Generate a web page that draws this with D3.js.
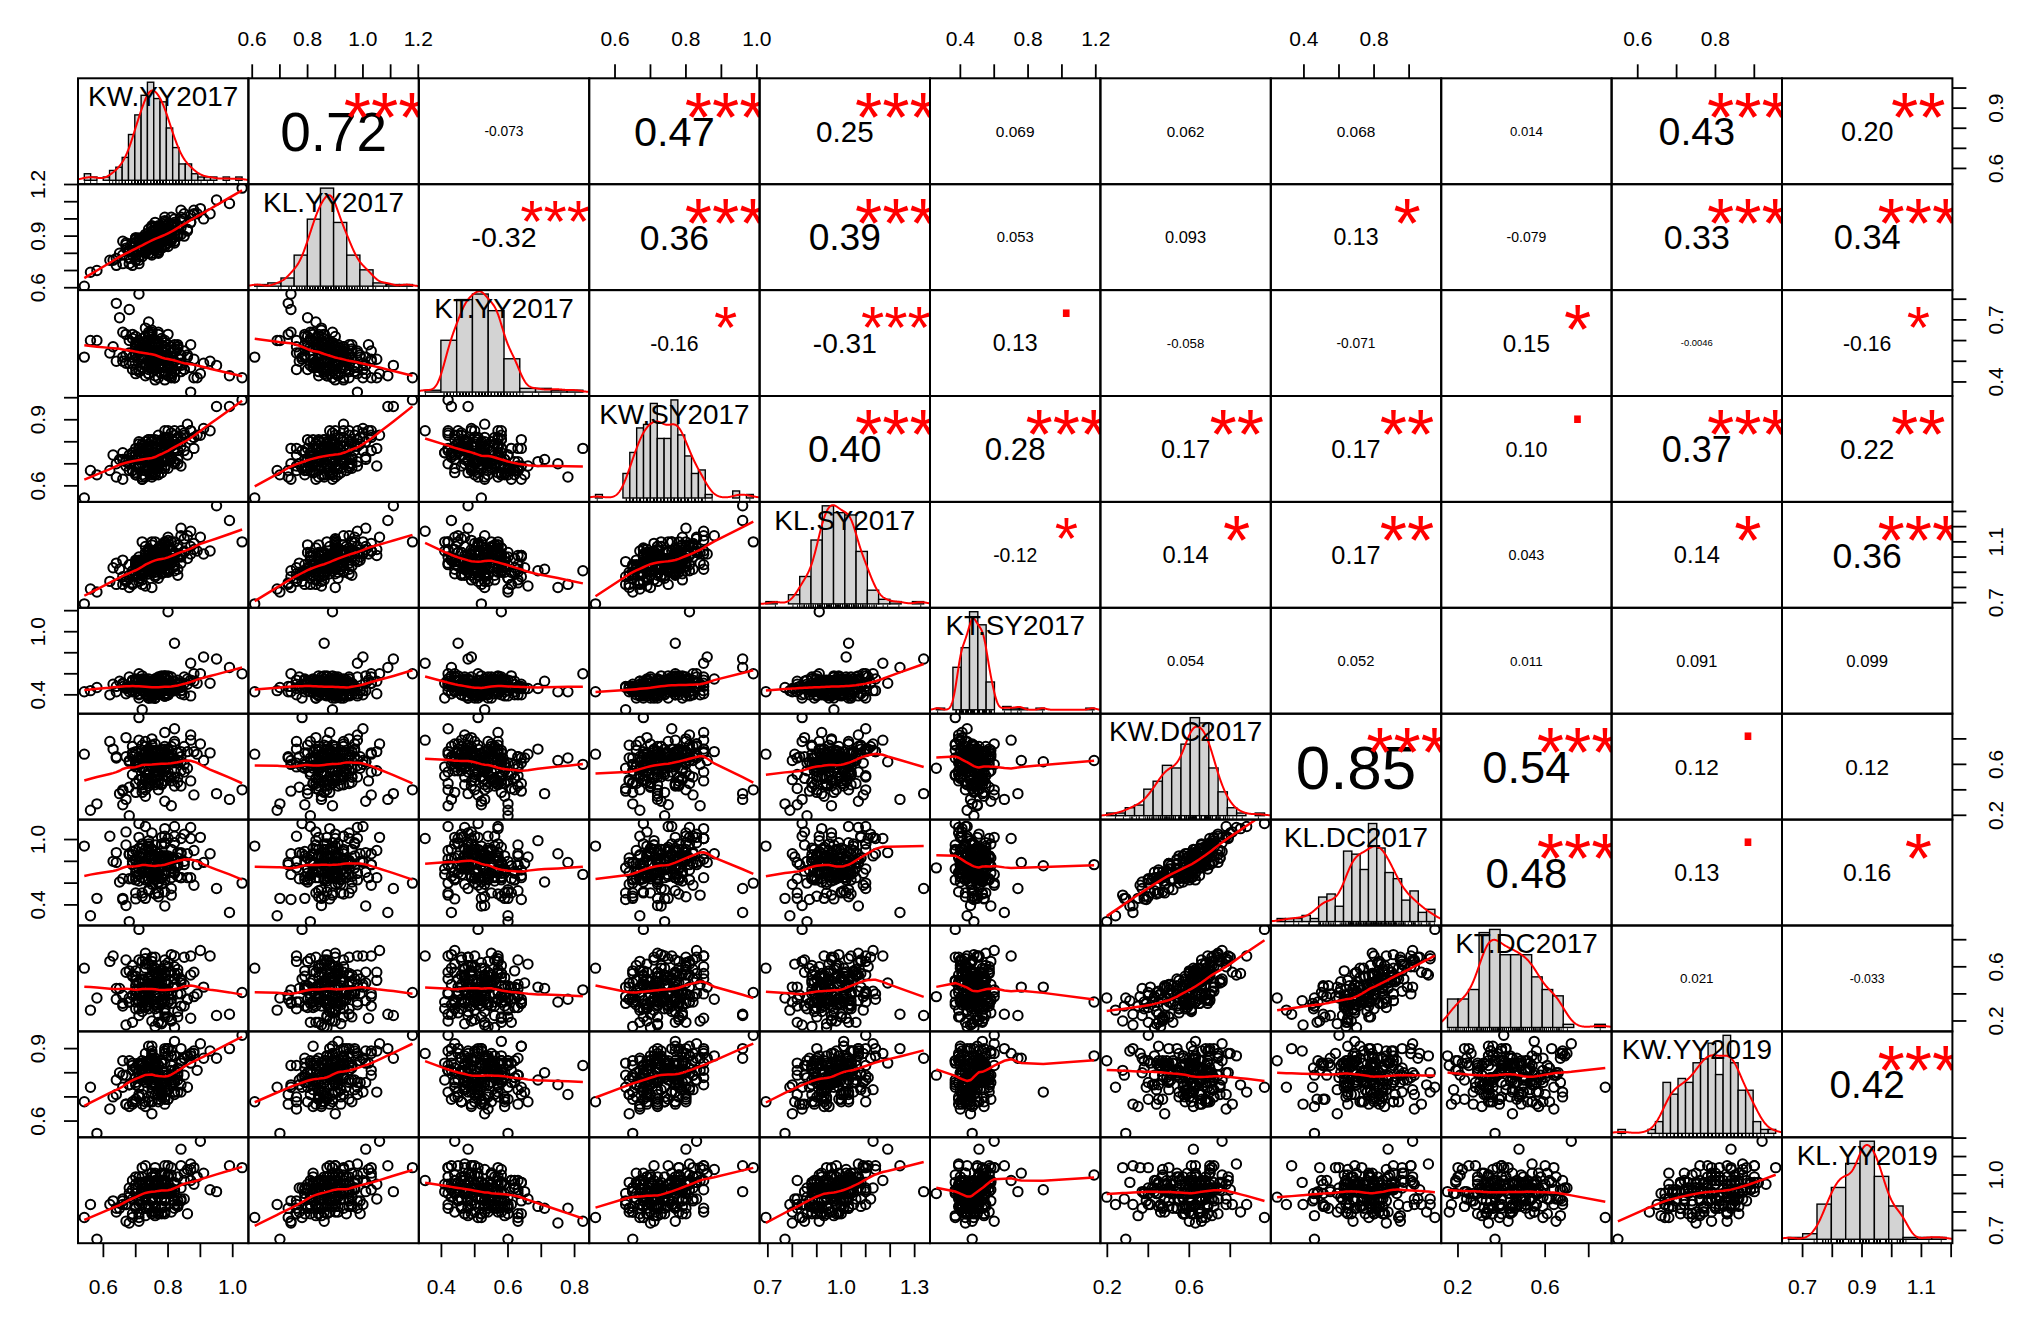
<!DOCTYPE html>
<html>
<head>
<meta charset="utf-8">
<title>Correlation chart</title>
<script src="https://cdn.jsdelivr.net/npm/d3@7/dist/d3.min.js"></script>
<style>
html,body{margin:0;padding:0;background:#fff;}
svg{display:block;}
</style>
</head>
<body>
<script>
// ---------------- data (read / estimated from the picture) ----------------
const varNames = ["KW.YY2017","KL.YY2017","KT.YY2017","KW.SY2017","KL.SY2017","KT.SY2017","KW.DC2017","KL.DC2017","KT.DC2017","KW.YY2019","KL.YY2019"];

const KW_YY2017 = [
.74,.79,.70,.82,.76,.68,.77,.85,.73,.541,
.78,.71,.80,.75,.66,.83,.72,.77,.91,.74,
.69,.76,.81,.73,.79,.64,.75,.87,.71,.78,
.82,.74,.77,.70,.86,.75,.62,.79,.73,.80,
.76,.72,.84,.78,.69,.81,.74,.93,.67,.77,
.71,.79,.75,.83,.73,.77,.88,.70,.76,.58,
.80,.68,.74,.78,.82,.72,.76,.65,.79,.85,
.75,.83,.71,.77,.74,.90,.69,.80,.76,.73,
.78,.66,.79,.72,.84,.75,.81,.74,.70,1.029,
.73,.80,.76,.87,.71,.78,.67,.82,.75,.79,
.77,.72,.81,.74,.63,.79,.76,.84,.72,.80,
.84,.75,.70,.78,.80,.73,.95,.77,.69,.76,
.71,.82,.77,.68,.75,.79,.74,.86,.78,.72,
.79,.74,.89,.76,.72,.81,.70,.75,.83,.56,
.75,.78,.73,.80,.67,.77,.82,.71,.79,.74,
.82,.70,.76,.85,.74,.78,.72,.80,.64,.77,
.73,.81,.75,.71,.79,.83,.76,.69,.88,.75,
.78,.72,.80,.74,.76,.70,.84,.77,.73,.99,
.70,.79,.74,.82,.77,.75,.81,.68,.76,.72,
.81,.76,.71,.78,.73,.87,.75,.79,.66,.74];

const KL_YY2017 = [
.88,.87,.89,.93,.93,.77,.81,1.00,.85,.609,
.84,.87,.93,.85,.87,.90,.87,.95,1.00,.85,
.79,.98,.89,.90,.84,.77,.90,.98,.74,.92,
.98,.83,.89,.88,.93,.79,.76,.98,.84,.88,
.87,.89,.99,.84,.81,1.01,.82,1.03,.83,.80,
.89,.89,.80,.96,.88,.84,1.05,.79,.90,.70,
.89,.82,.94,.86,1.00,.83,.82,.80,.92,.90,
.90,.90,.84,.96,.84,1.06,.73,.92,.93,.82,
.90,.74,.97,.82,1.05,.89,.88,.90,.76,1.179,
.81,.95,.93,.98,.76,.91,.85,.91,.89,.99,
.91,.78,.91,.90,.76,.88,.95,1.01,.83,.84,
.91,.88,.86,.87,.94,.91,1.11,.82,.84,.86,
.88,.93,.92,.74,.84,1.01,.86,.94,.83,.86,
.89,.92,1.03,.88,.88,.87,.79,.95,.96,.69,
.88,.87,.80,.97,.86,.91,.86,.87,.90,.89,
.97,.82,.84,1.03,.80,.95,.86,.90,.73,.84,
.84,.97,.96,.78,.93,.91,.86,.86,1.03,.93,
.95,.82,.86,.87,.91,.89,.95,.85,.85,1.09,
.79,.93,.90,.87,.95,.86,.96,.81,.83,.89,
.93,.93,.81,.92,.81,1.02,.95,.85,.79,.83];

const KT_YY2017 = [
.47,.60,.54,.42,.55,.54,.64,.46,.59,.52,
.56,.46,.52,.65,.50,.48,.57,.42,.49,.60,
.52,.54,.42,.55,.59,.50,.53,.47,.825,.47,
.55,.50,.59,.44,.53,.63,.54,.44,.57,.52,
.43,.53,.53,.51,.61,.44,.64,.50,.49,.59,
.54,.45,.57,.56,.49,.53,.42,.62,.41,.60,
.58,.49,.50,.61,.42,.56,.51,.71,.52,.46,
.49,.57,.45,.52,.63,.44,.63,.50,.54,.48,
.53,.64,.45,.47,.51,.64,.50,.56,.46,.42,
.48,.52,.57,.351,.60,.49,.53,.58,.48,.52,
.55,.52,.44,.62,.57,.57,.46,.48,.61,.43,
.49,.58,.56,.47,.51,.43,.48,.63,.49,.58,
.59,.50,.55,.75,.47,.52,.44,.52,.58,.51,
.48,.54,.42,.58,.53,.43,.58,.48,.58,.60,
.54,.47,.62,.47,.63,.50,.45,.56,.50,.58,
.45,.57,.53,.55,.46,.53,.58,.49,.78,.47,
.62,.48,.55,.51,.41,.57,.54,.46,.51,.51,
.53,.47,.63,.54,.48,.59,.45,.53,.66,.43,
.53,.56,.44,.56,.58,.50,.52,.60,.48,.53,
.57,.47,.55,.44,.57,.58,.49,.57,.52,.69];

const KW_SY2017 = [
.76,.68,.72,.85,.70,.70,.69,.84,.72,.545,
.72,.77,.78,.65,.72,.76,.78,.70,.86,.74,
.75,.69,.84,.72,.69,.70,.64,.81,.77,.72,
.71,.79,.72,.74,.88,.67,.67,.78,.64,.80,
.75,.63,.82,.81,.67,.72,.81,.85,.69,.68,
.70,.79,.81,.70,.75,.80,.77,.65,.75,.65,
.81,.67,.67,.77,.76,.79,.66,.72,.72,.83,
.69,.79,.80,.68,.77,.83,.67,.82,.72,.72,
.77,.63,.76,.77,.69,.77,.78,.69,.77,.99,
.80,.72,.78,.85,.69,.68,.72,.77,.66,.79,
.68,.76,.78,.71,.74,.85,.69,.80,.63,.75,
.78,.66,.74,.80,.72,.74,.96,.69,.73,.81,
.68,.80,.68,.70,.78,.73,.81,.74,.77,.64,
.80,.72,.83,.65,.77,.73,.69,.80,.72,.67,
.71,.80,.67,.79,.71,.65,.77,.79,.71,.75,
.83,.66,.73,.76,.77,.77,.65,.85,.64,.73,
.67,.78,.80,.68,.75,.82,.65,.74,.82,.71,
.78,.70,.68,.78,.75,.65,.85,.74,.69,.96,
.72,.82,.68,.70,.83,.74,.73,.74,.71,.75,
.73,.78,.72,.66,.75,.85,.68,.77,.75,.71];

const KL_SY2017 = [
.93,1.00,.98,.95,1.03,.88,1.00,1.03,.93,.692,
1.01,.96,.90,.93,.98,.92,1.10,1.00,1.02,1.03,
.91,1.03,.96,1.07,.90,.96,.80,1.07,.91,.94,
1.02,.89,1.00,.97,1.14,.90,.84,.97,.90,1.07,
.98,.97,1.00,1.08,.82,1.05,1.01,1.04,.85,.93,
1.00,.97,1.08,.88,.98,1.03,1.05,.89,1.10,.77,
.91,.95,1.04,.90,1.10,.85,.92,.92,.94,1.12,
.98,1.08,.94,.94,1.01,1.13,.83,.92,1.02,.95,
.93,.87,1.10,.88,1.01,1.01,.96,1.05,.89,1.10,
1.01,.92,1.04,1.17,.86,1.05,.84,1.01,.95,.98,
1.06,.90,.99,.99,.93,.92,1.03,1.19,.82,.99,
.96,.98,.96,.94,1.07,.98,1.337,.92,.88,1.02,
.97,.91,1.02,.80,1.01,1.07,.95,.99,1.06,.88,
.99,1.04,1.04,.95,.89,.99,.95,.96,1.00,.79,
1.02,.97,.90,1.13,.85,.86,1.03,.96,1.09,.93,
1.03,.94,.87,1.04,1.03,.89,.90,1.11,.82,.92,
.93,.98,1.10,.84,1.04,1.06,.88,.88,1.09,1.04,
1.06,.92,.95,.92,.90,.94,1.14,.95,.81,1.24,
.88,1.08,.89,.94,1.06,.93,1.10,.86,.97,.96,
.98,.94,.98,.92,1.03,1.02,1.01,1.02,.82,.91];

const KT_SY2017 = [
.53,.39,.48,.48,.37,.57,.46,.40,.54,.43,
.44,.40,.40,.46,.51,.47,.58,.55,.76,.47,
.54,.41,.50,.55,.39,.48,.46,.39,.60,.47,
.46,.37,.54,.54,.55,.46,.40,.57,.46,.46,
.51,.258,.44,.50,.53,.44,.50,.51,.41,.51,
.41,.58,.47,.51,.50,.43,.53,.43,.37,.47,
1.19,.47,.39,.58,.44,.53,.43,.53,.39,.51,
.53,.47,.54,.40,.48,.60,.48,.40,.51,.46,
.43,.48,.48,.55,.41,.40,.51,.55,.46,.60,
.50,.41,.53,.70,.54,.43,.46,.53,.37,.44,
.50,.47,.57,.40,.50,.41,.51,.51,.47,.58,
.47,.40,.53,.48,.54,.41,.74,.46,.43,.55,
.47,.44,.53,.43,.53,.58,.43,.50,.47,.48,
.55,.37,.51,.48,.44,.48,.54,.39,.50,.44,
.44,.57,.50,.44,.47,.50,.89,.53,.39,.50,
.47,.47,.40,.57,.50,.46,.48,.57,.43,.54,
.53,.44,.51,.37,.51,.54,.44,.44,.60,.41,
.51,.51,.40,.46,.55,.43,.44,.51,.46,.66,
.55,.41,.48,.48,.57,.40,.51,.48,.37,.48,
.44,.53,.54,.44,.43,.54,.41,.57,.50,.46];

const KW_DC2017 = [
.62,.47,.70,.54,.76,.42,.65,.60,.35,.68,
.57,.79,.50,.65,.40,.61,.71,.45,.63,.52,
.69,.59,.275,.74,.55,.66,.48,.83,.60,.44,
.50,.65,.61,.38,.70,.57,.78,.63,.47,.68,
.60,.57,.66,.72,.52,.62,.45,.69,.81,.58,
.66,.55,.75,.46,.63,.40,.70,.60,.51,.29,
.63,.62,.52,.68,.88,.49,.59,.37,.65,.74,
.47,.69,.60,.57,.43,.76,.66,.50,.62,.70,
.63,.39,.72,.65,.55,.61,.47,.69,.58,.40,
.54,.68,.44,.79,.61,.70,.325,.63,.75,.57,
.68,.58,.65,.49,.72,.85,.55,.62,.41,.66,
.43,.71,.61,.69,.54,.65,.37,.59,.74,.51,
.60,.78,.48,.63,.70,.31,.66,.57,.45,.75,
.70,.52,.68,.60,.44,.74,.62,.80,.50,.24,
.57,.65,.40,.71,.66,.55,.62,.48,.61,.69,
.76,.45,.62,.54,.69,.60,.38,.72,.65,.58,
.49,.66,.70,.967,.58,.63,.46,.68,.36,.62,
.65,.57,.51,.72,.61,.45,.70,.54,.68,.325,
.60,.74,.55,.43,.65,.69,.50,.197,.71,.63,
.68,.50,.63,.58,.78,.47,.66,.60,.283,.72];

const KL_DC2017 = [
.85,.52,.90,.82,.89,.64,.67,.80,.46,.94,
.65,1.02,.77,.78,.64,.76,.96,.51,.79,.54,
.89,.69,.49,.79,.85,.88,.59,1.11,.68,.59,
.69,.91,.72,.455,.87,.85,1.03,.63,.70,.82,
.66,.74,.87,1.02,.64,.70,.72,.87,1.07,.69,
.92,.69,.83,.66,.91,.475,.90,.63,.73,.46,
.77,.86,.70,.76,1.12,.71,.70,.61,.83,1.05,
.67,.83,.85,.61,.53,1.02,.77,.78,.82,.77,
.80,.45,.96,.92,.65,.65,.65,.94,.74,.60,
.81,.80,.50,1.01,.80,.96,.395,.69,.90,.80,
.79,.87,.83,.69,.80,1.10,.68,.88,.51,.83,
.65,.78,.82,.85,.78,.74,.55,.87,.86,.63,
.73,1.03,.51,.87,.91,.39,.96,.65,.65,.83,
.97,.63,.77,.79,.65,.91,.66,1.06,.78,.30,
.68,.85,.63,.85,.95,.60,.76,.62,.69,.93,
.97,.70,.72,.77,.73,.81,.48,1.01,.79,.75,
.71,.74,.91,1.147,.68,.88,.64,.80,.58,.91,
.74,.78,.76,.85,.85,.51,1.01,.72,.84,.33,
.80,1.03,.64,.70,.79,.91,.55,.247,.95,.74,
.81,.73,.79,.64,1.12,.65,.77,.85,.46,.99];

const KT_DC2017 = [
.52,.23,.53,.51,.49,.34,.33,.47,.31,.59,
.34,.65,.23,.48,.39,.27,.64,.25,.45,.46,
.53,.32,.20,.70,.44,.44,.45,.54,.43,.18,
.47,.40,.52,.29,.36,.44,.64,.34,.36,.63,
.32,.38,.51,.45,.19,.56,.34,.68,.56,.46,
.49,.26,.64,.40,.40,.19,.56,.57,.34,.37,
.34,.57,.41,.36,.68,.31,.32,.44,.49,.67,
.20,.55,.40,.49,.38,.72,.39,.34,.56,.35,
.54,.33,.42,.50,.50,.36,.21,.51,.34,.41,
.40,.39,.41,.68,.29,.57,.17,.55,.50,.40,
.54,.51,.33,.37,.68,.55,.29,.48,.45,.47,
.31,.61,.50,.33,.42,.59,.24,.30,.61,.39,
.35,.60,.46,.34,.59,.35,.62,.36,.19,.48,
.61,.32,.40,.55,.27,.69,.46,.67,.23,.28,
.44,.58,.30,.42,.65,.37,.45,.24,.28,.52,
.51,.42,.59,.31,.36,.49,.34,.60,.36,.53,
.45,.40,.54,.876,.29,.58,.16,.54,.38,.35,
.53,.34,.47,.48,.45,.39,.40,.46,.62,.25,
.43,.65,.29,.152,.55,.35,.40,.37,.67,.39,
.36,.43,.48,.35,.66,.22,.53,.56,.31,.45];

const KW_YY2019 = [
.81,.69,.82,.81,.85,.75,.71,.86,.66,.68,
.71,.80,.90,.72,.85,.72,.79,.83,.86,.84,
.84,.71,.81,.88,.70,.77,.63,.87,.83,.73,
.76,.85,.68,.82,.87,.86,.65,.74,.77,.90,
.84,.79,.85,.73,.81,.76,.91,.89,.67,.80,
.71,.88,.74,.82,.83,.69,.89,.78,.77,.549,
.87,.66,.85,.76,.72,.83,.75,.80,.67,.86,
.85,.80,.70,.83,.79,.92,.67,.73,.86,.78,
.75,.74,.90,.77,.72,.91,.79,.81,.68,.955,
.80,.69,.84,.88,.83,.72,.67,.93,.75,.76,
.83,.78,.77,.85,.70,.75,.81,.84,.84,.69,
.75,.80,.78,.74,.90,.81,.86,.73,.83,.80,
.78,.71,.83,.75,.76,.89,.82,.74,.85,.71,
.80,.84,.81,.79,.67,.87,.76,.88,.77,.74,
.87,.77,.76,.73,.79,.78,.72,.84,.76,.85,
.77,.75,.86,.79,.68,.84,.85,.78,.71,.73,
.78,.89,.68,.74,.84,.79,.83,.68,.88,.89,
.76,.83,.79,.70,.82,.69,.90,.79,.68,.90,
.82,.79,.80,.87,.77,.68,.83,.85,.76,.80,
.78,.84,.84,.70,.80,.84,.81,.72,.79,.77];

const KL_YY2019 = [
.97,.83,.93,.82,1.00,.93,.79,.97,.78,.77,
.82,.99,.91,.91,.84,.86,1.04,.90,1.01,.82,
.92,.82,1.04,.93,.90,.80,.80,1.06,.75,.90,
.86,.92,.95,.90,1.03,.79,.84,1.00,.82,.96,
.95,.90,.86,.96,.97,.91,.96,.92,.84,.95,
.96,.86,.92,.84,1.05,.90,.95,.93,.91,.652,
1.00,.90,.95,.97,.84,.91,1.01,.82,.87,.87,
.99,.83,.87,.88,.97,1.183,.77,.93,.90,.90,
.93,.86,.93,.95,.87,.96,1.00,.84,.82,1.04,
.82,.91,.97,.97,.79,1.01,.84,.95,.96,.79,
.95,.93,.80,.97,.86,.80,.99,1.14,.84,.92,
.93,.87,.99,.79,.99,.88,.91,.92,.79,.95,
.86,.95,.95,.74,.93,.96,.97,.79,.96,.96,
1.01,.90,.99,.80,.90,.93,.90,.92,.83,.84,
.87,.91,.93,.93,.75,.93,.92,.87,1.05,.90,
.96,.95,.83,1.01,.83,.83,.91,1.05,.82,.79,
.95,.92,1.01,.77,.95,.99,.80,.87,1.04,.92,
.87,.99,.90,.92,.83,.83,1.05,.91,.87,1.05,
.90,.87,.97,.91,.96,.92,.92,.88,.78,.95,
.90,1.04,.84,.90,.87,1.03,.86,.97,.87,.83];

// histogram bin widths
const histBinWidth = [0.02,0.05,0.05,0.02,0.05,0.05,0.05,0.05,0.05,0.02,0.05];

// axis ticks and the labels that are printed
const axisTicks = [
  [0.6,0.7,0.8,0.9,1.0],
  [0.6,0.7,0.8,0.9,1.0,1.1,1.2],
  [0.4,0.5,0.6,0.7,0.8],
  [0.6,0.7,0.8,0.9,1.0],
  [0.7,0.8,0.9,1.0,1.1,1.2,1.3],
  [0.4,0.6,0.8,1.0,1.2],
  [0.2,0.4,0.6,0.8],
  [0.4,0.6,0.8,1.0],
  [0.2,0.4,0.6,0.8],
  [0.6,0.7,0.8,0.9],
  [0.7,0.8,0.9,1.0,1.1,1.2]
];
const axisLabelsH = [["0.6","0.8","1.0"],["0.6","0.8","1.0","1.2"],["0.4","0.6","0.8"],["0.6","0.8","1.0"],["0.7","1.0","1.3"],["0.4","0.8","1.2"],["0.2","0.6"],["0.4","0.8"],["0.2","0.6"],["0.6","0.8"],["0.7","0.9","1.1"]];
const axisLabelsV = [["0.6","0.9"],["0.6","0.9","1.2"],["0.4","0.7"],["0.6","0.9"],["0.7","1.1"],["0.4","1.0"],["0.2","0.6"],["0.4","1.0"],["0.2","0.6"],["0.6","0.9"],["0.7","1.0"]];

// upper-triangle correlation texts and significance marks (row by row)
const corText = [
 "0.72","-0.073","0.47","0.25","0.069","0.062","0.068","0.014","0.43","0.20",
 "-0.32","0.36","0.39","0.053","0.093","0.13","-0.079","0.33","0.34",
 "-0.16","-0.31","0.13","-0.058","-0.071","0.15","-0.0046","-0.16",
 "0.40","0.28","0.17","0.17","0.10","0.37","0.22",
 "-0.12","0.14","0.17","0.043","0.14","0.36",
 "0.054","0.052","0.011","0.091","0.099",
 "0.85","0.54","0.12","0.12",
 "0.48","0.13","0.16",
 "0.021","-0.033",
 "0.42"];
const corStars = [
 "***","","***","***","","","","","***","**",
 "***","***","***","","","*","","***","***",
 "*","***",".","","","*","","*",
 "***","***","**","**",".","***","**",
 "*","*","**","","*","***",
 "","","","","",
 "***","***",".","",
 "***",".","*",
 "","",
 "***"];

// ---------------- layout ----------------
const W = 2032, H = 1323;
const L0 = 78, T0 = 78.3, CW = 170.4, CH = 105.9;
const FONT = "'Liberation Sans', Arial, Helvetica, sans-serif";
const vars = [KW_YY2017,KL_YY2017,KT_YY2017,KW_SY2017,KL_SY2017,KT_SY2017,KW_DC2017,KL_DC2017,KT_DC2017,KW_YY2019,KL_YY2019];
const nV = vars.length;

const mctx = document.createElement("canvas").getContext("2d");
function emWidth(s){ mctx.font = "100px " + FONT; return mctx.measureText(s).width / 100; }

const svg = d3.select("body").append("svg")
  .attr("width", W).attr("height", H)
  .attr("font-family", FONT);
svg.append("rect").attr("width", W).attr("height", H).attr("fill", "#fff");

const xS = vars.map((v,k) => { const [a,b] = d3.extent(v), e = (b-a)*0.04;
  return d3.scaleLinear().domain([a-e, b+e]).range([L0+k*CW, L0+(k+1)*CW]); });
const yS = vars.map((v,k) => { const [a,b] = d3.extent(v), e = (b-a)*0.04;
  return d3.scaleLinear().domain([a-e, b+e]).range([T0+(k+1)*CH, T0+k*CH]); });

const defs = svg.append("defs");
for (let i = 0; i < nV; i++) for (let j = 0; j < nV; j++) {
  defs.append("clipPath").attr("id", `c${i}_${j}`).append("rect")
    .attr("x", L0+j*CW).attr("y", T0+i*CH).attr("width", CW).attr("height", CH);
}

// ---------------- helpers ----------------
function lowess(xv, yv, f, iter) {
  const n = xv.length;
  const ord = d3.range(n).sort((a,b) => xv[a]-xv[b]);
  const x = ord.map(i => xv[i]), y = ord.map(i => yv[i]);
  const ns = Math.max(2, Math.min(n, Math.floor(f*n + 1e-7)));
  const rng = x[n-1] - x[0];
  const hs = x.map(xi => x.map(v => Math.abs(v - xi)).sort((a,b) => a-b)[ns-1]);
  let rw = new Array(n).fill(1);
  const fit = new Array(n).fill(0), w = new Array(n);
  for (let it = 0; it <= iter; it++) {
    for (let i = 0; i < n; i++) {
      const h = hs[i], h9 = 0.999*h, h1 = 0.001*h;
      let sw = 0;
      for (let j = 0; j < n; j++) {
        const d = Math.abs(x[j] - x[i]);
        let wj = 0;
        if (h <= 0) wj = d === 0 ? 1 : 0;
        else if (d <= h9) wj = d <= h1 ? 1 : Math.pow(1 - Math.pow(d/h, 3), 3);
        wj *= rw[j]; w[j] = wj; sw += wj;
      }
      if (sw <= 0) { fit[i] = y[i]; continue; }
      let a = 0, ym = 0;
      for (let j = 0; j < n; j++) { a += w[j]*x[j]; ym += w[j]*y[j]; }
      a /= sw; ym /= sw;
      let b = 0, c = 0;
      for (let j = 0; j < n; j++) { b += w[j]*(x[j]-a)*(x[j]-a); c += w[j]*(x[j]-a)*(y[j]-ym); }
      fit[i] = (Math.sqrt(b/sw) > 0.001*rng) ? ym + c/b*(x[i]-a) : ym;
    }
    if (it === iter) break;
    const res = y.map((v,k) => v - fit[k]);
    const cmad = 6 * d3.median(res.map(Math.abs));
    if (cmad < 1e-7) break;
    rw = res.map(r => { const ar = Math.abs(r); if (ar <= 0.001*cmad) return 1; if (ar > 0.999*cmad) return 0; const u = r/cmad; return (1-u*u)*(1-u*u); });
  }
  return x.map((v,k) => [v, fit[k]]);
}

function kde(v) {
  const n = v.length, s = v.slice().sort(d3.ascending);
  const sd = d3.deviation(v), iqr = d3.quantile(s, 0.75) - d3.quantile(s, 0.25);
  let lo = Math.min(sd, iqr/1.34); if (!(lo > 0)) lo = sd;
  const bw = 0.9 * lo * Math.pow(n, -0.2);
  const a = s[0] - 3*bw, b = s[n-1] + 3*bw;
  const k0 = 1 / (n * bw * Math.sqrt(2*Math.PI));
  return d3.range(512).map(q => { const x = a + (b-a)*q/511; let t = 0;
    for (const xi of v) { const z = (x - xi)/bw; t += Math.exp(-0.5*z*z); } return [x, t*k0]; });
}

// ---------------- diagonal panels ----------------
const labelFs = 0.9*CW / d3.max(varNames, s => emWidth(s));
for (let k = 0; k < nV; k++) {
  const v = vars[k], x0 = L0 + k*CW, y0 = T0 + k*CH;
  const g = svg.append("g").attr("clip-path", `url(#c${k}_${k})`);
  const bw = histBinWidth[k];
  const mn = d3.min(v), mx = d3.max(v);
  const start = Math.floor(mn/bw + 1e-7)*bw, end = Math.ceil(mx/bw - 1e-7)*bw;
  const nb = Math.round((end - start)/bw);
  const counts = new Array(nb).fill(0);
  v.forEach(t => { let b = Math.ceil((t - start)/bw - 1e-7) - 1; b = Math.max(0, Math.min(nb-1, b)); counts[b]++; });
  const dens = counts.map(c => c / (v.length*bw));
  const M = d3.max(dens), span = end - start;
  const hx = d3.scaleLinear().domain([start - 0.04*span, end + 0.04*span]).range([x0, x0+CW]);
  const hy = d3.scaleLinear().domain([-0.04*M, 1.04*M]).range([y0+CH, y0]);
  g.selectAll(null).data(dens).enter().append("rect")
    .attr("x", (d,i) => hx(start + i*bw)).attr("width", hx(start+bw) - hx(start))
    .attr("y", d => hy(d)).attr("height", d => hy(0) - hy(d))
    .attr("fill", "#d3d3d3").attr("stroke", "#000").attr("stroke-width", 1.4);
  g.append("path").datum(kde(v))
    .attr("d", d3.line().x(d => hx(d[0])).y(d => hy(d[1])))
    .attr("fill", "none").attr("stroke", "#ff0000").attr("stroke-width", 2);
  g.selectAll(null).data(v).enter().append("line")
    .attr("x1", d => hx(d)).attr("x2", d => hx(d))
    .attr("y1", y0+CH).attr("y2", y0+CH - 0.03*CH)
    .attr("stroke", "#000").attr("stroke-width", 0.9);
  svg.append("text").attr("x", x0 + CW/2).attr("y", y0 + CH/6 + 0.358*labelFs)
    .attr("text-anchor", "middle").attr("font-size", labelFs).attr("fill", "#000")
    .text(varNames[k]);
}

// ---------------- lower panels ----------------
for (let i = 0; i < nV; i++) for (let j = 0; j < i; j++) {
  const g = svg.append("g").attr("clip-path", `url(#c${i}_${j})`);
  const xv = vars[j], yv = vars[i];
  g.selectAll(null).data(d3.range(xv.length)).enter().append("circle")
    .attr("cx", q => xS[j](xv[q])).attr("cy", q => yS[i](yv[q])).attr("r", 4.7)
    .attr("fill", "none").attr("stroke", "#000").attr("stroke-width", 2);
  g.append("path").datum(lowess(xv, yv, 2/3, 3))
    .attr("d", d3.line().x(d => xS[j](d[0])).y(d => yS[i](d[1])))
    .attr("fill", "none").attr("stroke", "#ff0000").attr("stroke-width", 2.5);
}

// ---------------- upper panels ----------------
let ci = 0;
for (let i = 0; i < nV; i++) for (let j = i+1; j < nV; j++) {
  const txt = corText[ci], st = corStars[ci]; ci++;
  const r = parseFloat(txt);
  const x0 = L0 + j*CW, y0 = T0 + i*CH;
  const g = svg.append("g").attr("clip-path", `url(#c${i}_${j})`);
  const cexPx = 0.8*CW / emWidth(txt);
  const fs = cexPx * (Math.abs(r) + 0.3) / 1.3;
  g.append("text").attr("x", x0 + CW/2).attr("y", y0 + CH/2 + 0.358*fs)
    .attr("text-anchor", "middle").attr("font-size", fs).attr("fill", "#000").text(txt);
  if (st) {
    const yc = y0 + 0.2*CH + 2;
    const off = st === "." ? 0.05*cexPx : 0.575*cexPx;
    g.append("text").attr("x", x0 + 0.8*CW).attr("y", yc + off)
      .attr("text-anchor", "middle").attr("font-size", cexPx).attr("fill", "#ff0000").text(st);
  }
}

// ---------------- frames ----------------
for (let i = 0; i < nV; i++) for (let j = 0; j < nV; j++) {
  svg.append("rect").attr("x", L0+j*CW).attr("y", T0+i*CH).attr("width", CW).attr("height", CH)
    .attr("fill", "none").attr("stroke", "#000").attr("stroke-width", 2);
}

// ---------------- axes ----------------
const tickLen = 14, axFs = 21;
for (let k = 0; k < nV; k++) {
  const top = (k % 2 === 1);
  const yEdge = top ? T0 : T0 + nV*CH;
  axisTicks[k].forEach(t => {
    const x = xS[k](t);
    svg.append("line").attr("x1", x).attr("x2", x).attr("y1", yEdge).attr("y2", top ? yEdge - tickLen : yEdge + tickLen)
      .attr("stroke", "#000").attr("stroke-width", 1.8);
  });
  axisLabelsH[k].forEach(s => {
    svg.append("text").attr("x", xS[k](+s)).attr("y", top ? 45.8 : 1294.2)
      .attr("text-anchor", "middle").attr("font-size", axFs).attr("fill", "#000").text(s);
  });
  const right = (k % 2 === 0);
  const xEdge = right ? L0 + nV*CW : L0;
  axisTicks[k].forEach(t => {
    const y = yS[k](t);
    svg.append("line").attr("y1", y).attr("y2", y).attr("x1", xEdge).attr("x2", right ? xEdge + tickLen : xEdge - tickLen)
      .attr("stroke", "#000").attr("stroke-width", 1.8);
  });
  axisLabelsV[k].forEach(s => {
    const bx = right ? 2002.5 : 44.5;
    svg.append("text").attr("transform", `translate(${bx},${yS[k](+s)}) rotate(-90)`)
      .attr("text-anchor", "middle").attr("font-size", axFs).attr("fill", "#000").text(s);
  });
}
</script>
</body>
</html>
